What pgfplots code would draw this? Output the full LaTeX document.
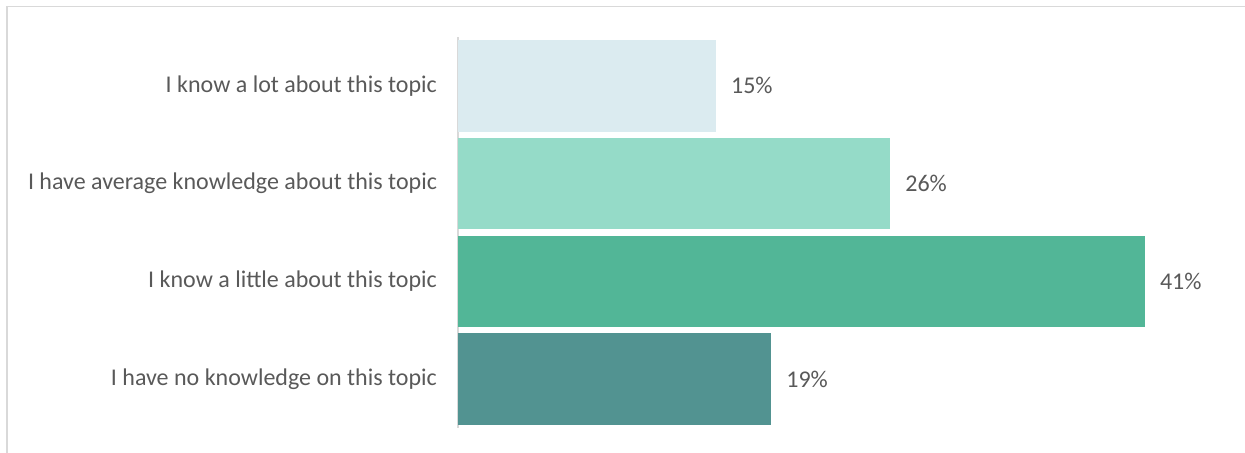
\documentclass[border=0pt]{standalone}
\usepackage{pgfplots}
\pgfplotsset{compat=1.18}
\usepackage{fontspec}
\setmainfont{Carlito}
\definecolor{txt}{HTML}{595959}
\definecolor{bord}{HTML}{D9D9D9}
\definecolor{cA}{HTML}{DBEBF0}
\definecolor{cB}{HTML}{95DBC8}
\definecolor{cC}{HTML}{52B697}
\definecolor{cD}{HTML}{529391}
\begin{document}
\begin{tikzpicture}
\useasboundingbox (0,0) rectangle (622.5pt,226.5pt);
\draw[bord, line width=0.8pt] (3.5pt,0) -- (3.5pt,223.25pt) -- (622.5pt,223.25pt);
\begin{axis}[
  at={(229pt,12.5pt)}, anchor=south west,
  scale only axis, width=343.5pt, height=195.5pt,
  xmin=0, xmax=41, ymin=-0.5, ymax=3.5, y dir=reverse,
  axis x line=none, axis y line=left,
  axis line style={-, bord, line width=0.8pt},
  xbar, bar width=0.936, bar shift=0pt,
  ytick={0,1,2,3},
  yticklabels={I know a lot about this topic, I have average knowledge about this topic, I know a little about this topic, I have no knowledge on this topic},
  major tick length=0pt,
  yticklabel style={font=\fontsize{12}{14}\selectfont, text=txt, xshift=-7pt},
  nodes near coords={\pgfmathprintnumber[fixed,precision=0,assume math mode=true]{\pgfplotspointmeta}\%},
  nodes near coords style={font=\fontsize{12}{14}\selectfont, text=txt, anchor=west, xshift=4pt},
  point meta=explicit,
  clip=false,
]
\addplot[draw=none, fill=cA] coordinates {(15.4,0) [15]};
\addplot[draw=none, fill=cB] coordinates {(25.8,1) [26]};
\addplot[draw=none, fill=cC] coordinates {(41.0,2) [41]};
\addplot[draw=none, fill=cD] coordinates {(18.7,3) [19]};
\end{axis}
\end{tikzpicture}
\end{document}
